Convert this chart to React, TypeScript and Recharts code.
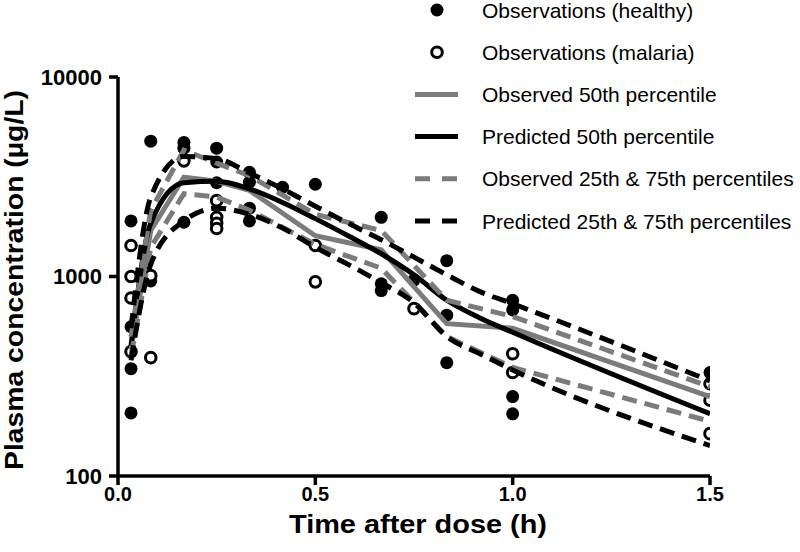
import React from 'react';
import { ComposedChart, Line, Scatter, XAxis, YAxis } from 'recharts';

// time points (h) and concentrations (µg/L)
const obsTimes = [0.033, 0.083, 0.167, 0.25, 0.333, 0.5, 0.667, 0.833, 1.0, 1.5];
const obsP50 = [430, 1700, 3150, 3000, 2700, 1600, 1360, 580, 550, 250];
const obsP75 = [500, 2150, 4300, 3700, 3200, 2050, 1700, 760, 630, 280];
const obsP25 = [400, 1400, 2600, 2500, 2150, 1450, 1100, 500, 350, 188];

const predTimes = [0.033, 0.083, 0.167, 0.25, 0.333, 0.417, 0.5, 0.583, 0.667, 0.75, 0.833, 0.917, 1.0, 1.5];
const predP50 = [450, 1850, 2950, 3000, 2750, 2350, 1950, 1600, 1300, 1020, 760, 620, 525, 205];
const predP75 = [550, 2500, 4000, 3900, 3300, 2750, 2250, 1850, 1530, 1250, 1020, 840, 730, 300];
const predP25 = [380, 1150, 1900, 2200, 2050, 1750, 1400, 1150, 930, 740, 500, 410, 340, 142];

const healthyTimes = [0.033, 0.033, 0.033, 0.033, 0.083, 0.083, 0.167, 0.167, 0.167, 0.25, 0.25, 0.25,
  0.333, 0.333, 0.333, 0.333, 0.417, 0.5, 0.667, 0.667, 0.667, 0.75, 0.833, 0.833, 0.833, 1.0, 1.0, 1.0, 1.0, 1.5];
const healthyConc = [1900, 560, 345, 207, 4770, 950, 4700, 4400, 1870, 4400, 3750, 2950,
  3330, 2970, 2200, 1900, 2800, 2900, 1980, 920, 850, 960, 1200, 640, 370, 760, 680, 250, 205, 330];

const malariaTimes = [0.033, 0.033, 0.033, 0.033, 0.083, 0.083, 0.167, 0.25, 0.25, 0.25, 0.25,
  0.5, 0.5, 0.75, 1.0, 1.0, 1.5, 1.5, 1.5];
const malariaConc = [1430, 1000, 780, 420, 1010, 392, 3800, 2400, 1980, 1850, 1740,
  1430, 940, 690, 410, 330, 290, 240, 163];

const xTicks = [0, 0.5, 1, 1.5];
const yTicks = [100, 1000, 10000];

const legendItems = [
  { label: 'Observations (healthy)', kind: 'filled' },
  { label: 'Observations (malaria)', kind: 'open' },
  { label: 'Observed 50th percentile', kind: 'grayLine' },
  { label: 'Predicted 50th percentile', kind: 'blackLine' },
  { label: 'Observed 25th & 75th percentiles', kind: 'grayDash' },
  { label: 'Predicted 25th & 75th percentiles', kind: 'blackDash' },
];

const zip = (xs: number[], ys: number[]) => xs.map((x, i) => ({ x, y: ys[i] }));

const FONT = '"Liberation Sans", Arial, Helvetica, sans-serif';
const GRAY = '#7b7b7b';
const DASH = '15 8';
const LW = 5;

const FilledDot = (p: any) => <circle cx={p.cx} cy={p.cy} r={6.5} fill="#000" />;
const OpenDot = (p: any) => <circle cx={p.cx} cy={p.cy} r={5.3} fill="#fff" stroke="#000" strokeWidth={3} />;

const LegendIcon = ({ kind, cy }: { kind: string; cy: number }) => {
  const x0 = 415, x1 = 458, cx = 437;
  if (kind === 'filled') return <circle cx={cx} cy={cy} r={6.5} fill="#000" />;
  if (kind === 'open') return <circle cx={cx} cy={cy} r={5.3} fill="#fff" stroke="#000" strokeWidth={3} />;
  const color = kind.startsWith('gray') ? GRAY : '#000';
  const dash = kind.endsWith('Dash') ? '15 12' : undefined;
  return <line x1={x0} x2={x1} y1={cy} y2={cy} stroke={color} strokeWidth={LW} strokeDasharray={dash} />;
};

export default function App() {
  const tickStyle = { fontSize: 22, fontWeight: 700, fill: '#000', fontFamily: FONT };
  const xTickStyle = { ...tickStyle, fontSize: 20 };
  const axisLine = { stroke: '#000', strokeWidth: 3.5 };
  const lineProps: any = { dot: false, isAnimationActive: false, strokeWidth: LW, zIndex: 700 };

  return (
    <div style={{ position: 'absolute', left: 0, top: 0, width: 800, height: 552, background: '#fff' }}>
      <ComposedChart width={800} height={552} margin={{ top: 77, right: 90, bottom: 0, left: 0 }}>
        <XAxis
          type="number"
          dataKey="x"
          domain={[0, 1.5]}
          ticks={xTicks}
          allowDataOverflow
          height={76}
          tickSize={9}
          tickMargin={2}
          axisLine={axisLine}
          tickLine={axisLine}
          tick={xTickStyle}
          tickFormatter={(v: number) => v.toFixed(1)}
        />
        <YAxis
          type="number"
          dataKey="y"
          scale="log"
          domain={[100, 10000]}
          ticks={yTicks}
          allowDataOverflow
          width={118}
          tickSize={9}
          tickMargin={7}
          axisLine={axisLine}
          tickLine={axisLine}
          tick={tickStyle}
        />
        <Scatter data={zip(healthyTimes, healthyConc)} shape={FilledDot} isAnimationActive={false} />
        <Scatter data={zip(malariaTimes, malariaConc)} shape={OpenDot} isAnimationActive={false} />
        <Line {...lineProps} data={zip(obsTimes, obsP50)} dataKey="y" type="linear" stroke={GRAY} />
        <Line {...lineProps} data={zip(predTimes, predP50)} dataKey="y" type="monotone" stroke="#000" />
        <Line {...lineProps} data={zip(obsTimes, obsP75)} dataKey="y" type="linear" stroke={GRAY} strokeDasharray={DASH} />
        <Line {...lineProps} data={zip(obsTimes, obsP25)} dataKey="y" type="linear" stroke={GRAY} strokeDasharray={DASH} />
        <Line {...lineProps} data={zip(predTimes, predP75)} dataKey="y" type="monotone" stroke="#000" strokeDasharray={DASH} />
        <Line {...lineProps} data={zip(predTimes, predP25)} dataKey="y" type="monotone" stroke="#000" strokeDasharray={DASH} />
      </ComposedChart>

      <svg width={800} height={552} style={{ position: 'absolute', left: 0, top: 0, pointerEvents: 'none' }}>
        <text
          x={23}
          y={280}
          transform="rotate(-90 23 280)"
          textAnchor="middle"
          fontFamily={FONT}
          fontWeight={700}
          fontSize={25}
          textLength={380}
          lengthAdjust="spacingAndGlyphs"
        >
          Plasma concentration (µg/L)
        </text>
        <text
          x={418}
          y={533}
          textAnchor="middle"
          fontFamily={FONT}
          fontWeight={700}
          fontSize={26}
          textLength={258}
          lengthAdjust="spacingAndGlyphs"
        >
          Time after dose (h)
        </text>
        {legendItems.map((item, i) => {
          const cy = 10 + i * 42.2;
          return (
            <g key={item.label}>
              <LegendIcon kind={item.kind} cy={cy} />
              <text x={482} y={cy + 7.5} fontFamily={FONT} fontSize={21} fill="#000">
                {item.label}
              </text>
            </g>
          );
        })}
      </svg>
    </div>
  );
}
